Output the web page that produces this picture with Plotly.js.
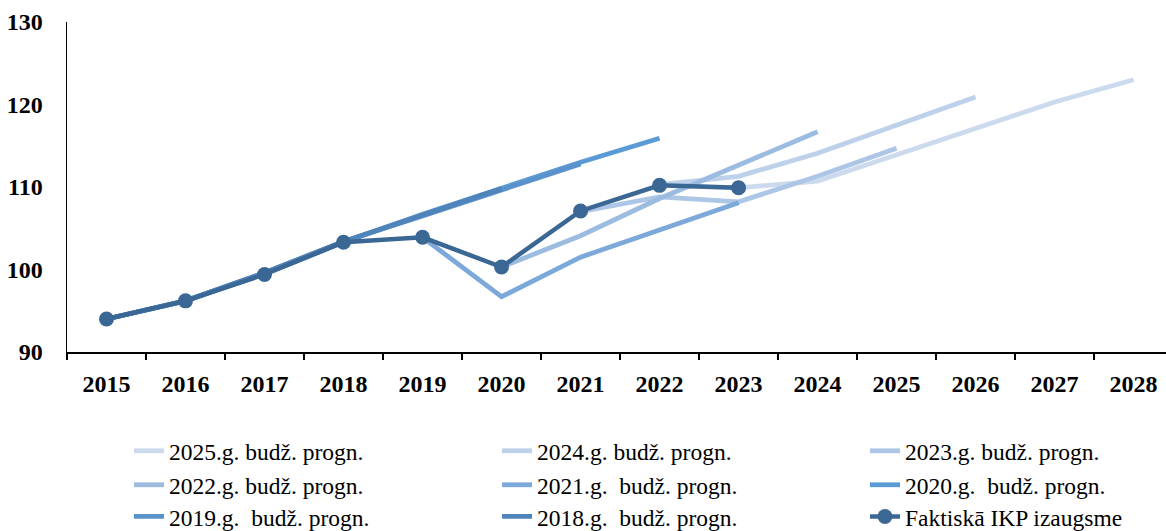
<!DOCTYPE html>
<html>
<head>
<meta charset="utf-8">
<script src="https://cdn.plot.ly/plotly-3.0.1.min.js"></script>
<style>html,body{margin:0;padding:0;background:#fff;}#chart{width:1166px;height:531px;}</style>
</head>
<body>
<div id="chart"></div>
<script>
var years = ['2015','2016','2017','2018','2019','2020','2021','2022','2023','2024','2025','2026','2027','2028'];

var budz2025 = [null,null,null,null,null,null,null,110.2,109.9,110.7,113.9,117.1,120.3,123.0];
var budz2024 = [null,null,null,null,null,null,null,110.3,111.3,114.1,117.5,120.9,null,null];
var budz2023 = [null,null,null,null,null,null,107.0,108.8,108.2,111.3,114.7,null,null,null];
var budz2022 = [null,null,null,null,null,100.3,104.1,108.6,112.7,116.7,null,null,null,null];
var budz2021 = [null,null,null,null,103.9,96.7,101.5,104.8,108.1,null,null,null,null,null];
var budz2020 = [94.0,96.2,99.5,103.3,106.7,109.9,113.0,115.9,null,null,null,null,null,null];
var budz2019 = [94.0,96.2,99.6,103.4,106.5,109.7,112.8,null,null,null,null,null,null,null];
var budz2018 = [94.0,96.2,99.6,103.4,106.6,109.8,null,null,null,null,null,null,null,null];
var faktiska = [94.0,96.2,99.4,103.3,103.9,100.3,107.1,110.2,109.9,null,null,null,null,null];

var names = ['2025.g. budž. progn.','2024.g. budž. progn.','2023.g. budž. progn.',
             '2022.g. budž. progn.','2021.g.  budž. progn.','2020.g.  budž. progn.',
             '2019.g.  budž. progn.','2018.g.  budž. progn.','Faktiskā IKP izaugsme'];
var series = [budz2025,budz2024,budz2023,budz2022,budz2021,budz2020,budz2019,budz2018,faktiska];
var colors = ['#CCDAEE','#BDD1EB','#ADC6E6','#9BBBE1','#7DA9DA','#5B9BD5','#5A92CB','#4F84BB','#3B6794'];

var traces = series.map(function(s, i){
  var isActual = (i === series.length - 1);
  return {
    x: years, y: s, name: names[i].replace(/  /g, '\u00a0 '), type: 'scatter',
    mode: isActual ? 'lines+markers' : 'lines',
    line: {color: colors[i], width: isActual ? 4.5 : 4.8},
    marker: {color: colors[i], size: 15},
    connectgaps: false,
    legend: i === 0 ? 'legend' : 'legend' + (i + 1),
    hoverinfo: 'x+y+name'
  };
});

var lfont = {family: '"Liberation Serif", "Times New Roman", serif', size: 23.5, color: '#000'};
var colX = [0.0564, 0.3913, 0.7261];
var rowY = [-0.3000, -0.4030, -0.4990];

var tfont = {family: '"Liberation Serif", "Times New Roman", serif', size: 24, color: '#000', weight: 'bold'};

var layout = {
  width: 1166, height: 531,
  margin: {l: 67, r: 0, t: 22, b: 179, pad: 0, autoexpand: false},
  paper_bgcolor: '#fff', plot_bgcolor: '#fff',
  showlegend: true,
  xaxis: {
    type: 'category', range: [-0.5, 13.41], showgrid: false, zeroline: false,
    showline: true, linecolor: '#000', linewidth: 1.5,
    ticks: 'outside', tickson: 'boundaries', ticklen: 6, tickcolor: '#000', tickwidth: 1.2,
    tickfont: tfont, ticklabelstandoff: 10, fixedrange: true
  },
  yaxis: {
    range: [90, 130], tickvals: [90,100,110,120,130], showgrid: false, zeroline: false,
    showline: true, linecolor: '#000', linewidth: 1.5, ticks: '',
    tickfont: tfont, ticklabelstandoff: 18, fixedrange: true
  }
};

for (var i = 0; i < series.length; i++) {
  var key = i === 0 ? 'legend' : 'legend' + (i + 1);
  layout[key] = {
    orientation: 'h', x: colX[i % 3], xanchor: 'left', y: rowY[Math.floor(i / 3)], yanchor: 'middle',
    font: lfont, bgcolor: 'rgba(0,0,0,0)', borderwidth: 0
  };
}

Plotly.newPlot('chart', traces, layout, {displayModeBar: false, staticPlot: true});
</script>
</body>
</html>
